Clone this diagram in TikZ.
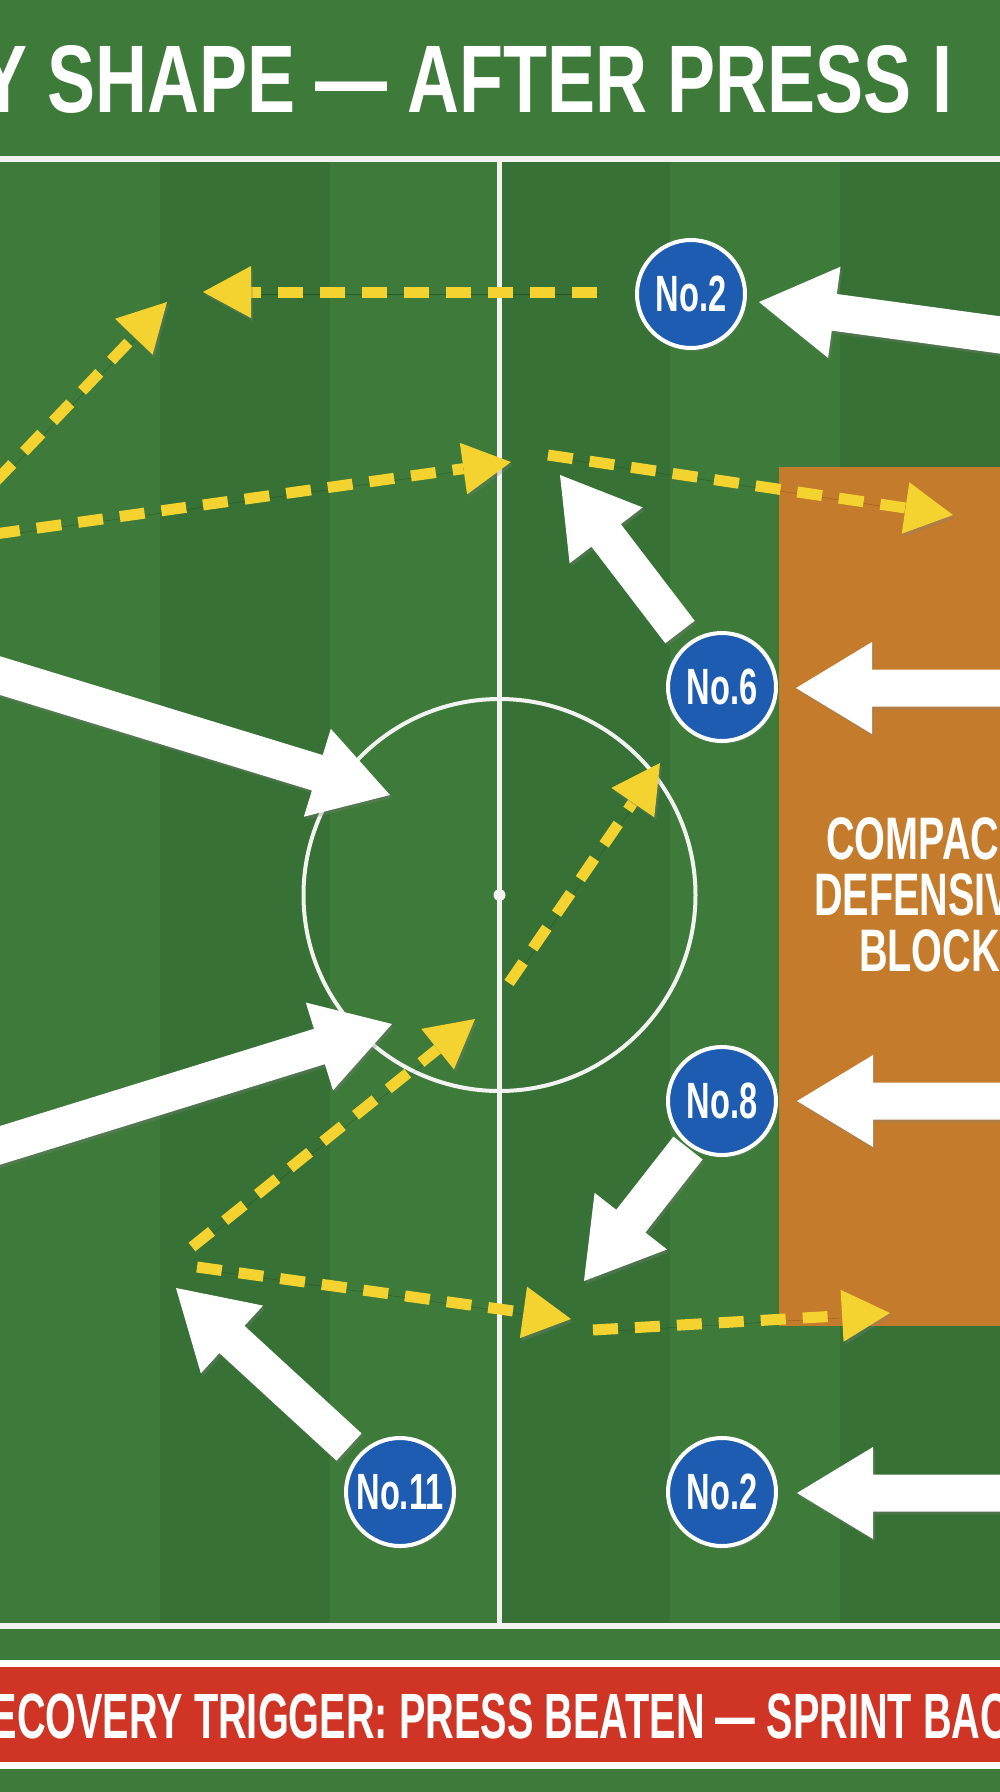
\documentclass[tikz,border=0pt]{standalone}
\usepackage{fontspec}
\usetikzlibrary{calc,shadows}
\newfontfamily\titlefont{Liberation Sans}[FakeStretch=0.75]
\newfontfamily\footfont{Liberation Sans}[FakeStretch=0.62]
\newfontfamily\labfont{Liberation Sans}[FakeStretch=0.64]
\newfontfamily\blockfont{Liberation Sans}[FakeStretch=0.66]
\definecolor{grass}{RGB}{62,122,58}
\definecolor{grassdark}{RGB}{56,113,53}
\definecolor{chalk}{RGB}{242,242,240}
\definecolor{blockorange}{RGB}{196,124,44}
\definecolor{bannerred}{RGB}{208,52,36}
\definecolor{pblue}{RGB}{30,92,178}
\definecolor{yel}{RGB}{244,210,48}
\tikzset{
  shad/.style={drop shadow={shadow xshift=2pt,shadow yshift=-3pt,opacity=.3}},
  player/.style={circle, fill=pblue, draw=white, line width=4pt, minimum size=108pt,
    inner sep=0pt, text=white, font=\labfont\bfseries\fontsize{51}{51}\selectfont, shad},
  chalkline/.style={draw=chalk},
  yelline/.style={draw=yel, line width=11pt, dash pattern=on 25pt off 17pt,
    preaction={draw=black, opacity=.25, transform canvas={xshift=2pt,yshift=-2pt}}},
  yelhead/.style={fill=yel, shad},
  whitearrow/.style={fill=white, shad},
  blocktxt/.style={text=white, anchor=base west, inner sep=0pt,
    font=\blockfont\bfseries\fontsize{60}{60}\selectfont},
}
\newcommand\BlockArrow[2]{%
  \path ($(#2)!76pt!(#1)$) coordinate (tmpH);
  \path[whitearrow] ($(#1)!18.5pt!90:(#2)$) -- ($(tmpH)!18.5pt!90:(#2)$)
    -- ($(tmpH)!46pt!90:(#2)$) -- (#2) -- ($(tmpH)!46pt!-90:(#2)$)
    -- ($(tmpH)!18.5pt!-90:(#2)$) -- ($(#1)!18.5pt!-90:(#2)$) -- cycle;
}
\newcommand\DashArrow[2]{%
  \path ($(#2)!48pt!(#1)$) coordinate (tmpY);
  \path[yelline] (#1) -- (tmpY);
  \path[yelhead] ($(tmpY)!26pt!90:(#2)$) -- (#2) -- ($(tmpY)!26pt!-90:(#2)$) -- cycle;
}
\begin{document}
\begin{tikzpicture}[x=1pt,y=-1pt]
\useasboundingbox (0,0) rectangle (1000,1792);
% background and stripes
\fill[grass] (0,0) rectangle (1000,1792);
\foreach \sx in {160,500,840} \fill[grassdark] (\sx,161) rectangle ({\sx+170},1623);
% pitch markings
\draw[chalkline, line width=6pt] (-5,158.5) -- (1005,158.5);
\draw[chalkline, line width=6pt] (-5,1626) -- (1005,1626);
\draw[chalkline, line width=5pt] (499.5,158.5) -- (499.5,1626);
\draw[chalkline, line width=4pt] (499.5,895) circle[radius=196];
\fill[chalk] (499.5,895) circle[radius=6];
% compact block zone
\fill[blockorange] (779,467) rectangle (1010,1326);
\node[blocktxt] (bt1) at (826,859) {COMPAC};
\node[blocktxt] (bt2) at (814,915) {DEFENSIV};
\node[blocktxt] (bt3) at (859,971) {BLOCK};
% coordinates
\coordinate (y1a) at (597,292);  \coordinate (y1b) at (203,292);
\coordinate (y2a) at (-5,482);   \coordinate (y2b) at (167,302);
\coordinate (y3a) at (-5,534);   \coordinate (y3b) at (511,462);
\coordinate (y4a) at (548,455);  \coordinate (y4b) at (953,515);
\coordinate (y5a) at (509,983);  \coordinate (y5b) at (660,763);
\coordinate (y6a) at (192,1247); \coordinate (y6b) at (475,1019);
\coordinate (y7a) at (197,1267); \coordinate (y7b) at (571,1319);
\coordinate (y8a) at (593,1330); \coordinate (y8b) at (890,1313);
\coordinate (w1a) at (1015,337); \coordinate (w1b) at (759,302);
\coordinate (w2a) at (1015,688); \coordinate (w2b) at (796,688);
\coordinate (w3a) at (1015,1101); \coordinate (w3b) at (797,1101);
\coordinate (w4a) at (1015,1493); \coordinate (w4b) at (797,1493);
\coordinate (w5a) at (680,632);  \coordinate (w5b) at (560,475);
\coordinate (w6a) at (688,1148); \coordinate (w6b) at (584,1281);
\coordinate (w7a) at (349,1447); \coordinate (w7b) at (176,1288);
\coordinate (w8a) at (-15,671);  \coordinate (w8b) at (390,795);
\coordinate (w9a) at (-15,1150); \coordinate (w9b) at (392,1024);
% yellow dashed runs
\DashArrow{y1a}{y1b}
\DashArrow{y2a}{y2b}
\DashArrow{y3a}{y3b}
\DashArrow{y4a}{y4b}
\DashArrow{y5a}{y5b}
\DashArrow{y6a}{y6b}
\DashArrow{y7a}{y7b}
\DashArrow{y8a}{y8b}
% white recovery arrows
\BlockArrow{w1a}{w1b}
\BlockArrow{w2a}{w2b}
\BlockArrow{w3a}{w3b}
\BlockArrow{w4a}{w4b}
\BlockArrow{w5a}{w5b}
\BlockArrow{w6a}{w6b}
\BlockArrow{w7a}{w7b}
\BlockArrow{w8a}{w8b}
\BlockArrow{w9a}{w9b}
% players
\node[player] (n2a) at (691,294) {No.2};
\node[player] (n6) at (722,687) {No.6};
\node[player] (n8) at (722,1101) {No.8};
\node[player] (n11) at (400,1492) {No.11};
\node[player] (n2b) at (722,1492) {No.2};
% title
\node[text=white, anchor=base, font=\titlefont\bfseries\fontsize{96}{96}\selectfont] (title) at (466,112) {Y SHAPE — AFTER PRESS I};
% banner
\draw[draw=white, fill=bannerred, line width=7pt] (-10,1663.5) rectangle (1010,1765);
\node[text=white, anchor=base, font=\footfont\bfseries\fontsize{64}{64}\selectfont] (banner) at (485.5,1738) {RECOVERY TRIGGER: PRESS BEATEN — SPRINT BAC};
\end{tikzpicture}
\end{document}
